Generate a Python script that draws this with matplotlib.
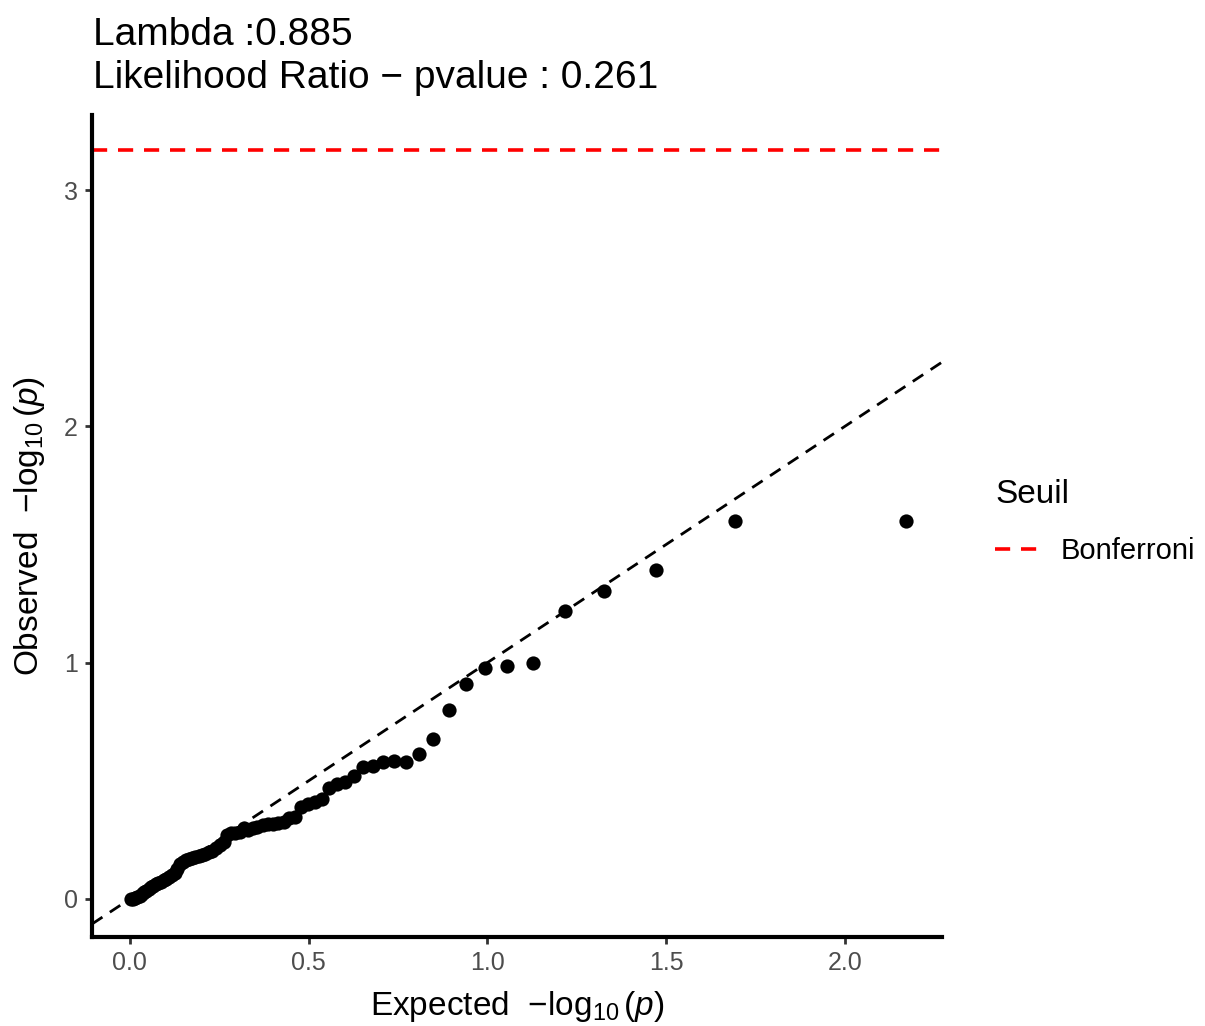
import matplotlib
matplotlib.use("Agg")
import matplotlib.pyplot as plt
from matplotlib.lines import Line2D

plt.rcParams['font.family'] = ['Liberation Sans', 'DejaVu Sans']
plt.rcParams['mathtext.fontset'] = 'custom'
plt.rcParams['mathtext.rm'] = 'Liberation Sans'
plt.rcParams['mathtext.it'] = 'Liberation Sans:italic'

# Expected -log10(p) (sorted, descending)
expected = [2.170, 1.693, 1.471, 1.325, 1.216, 1.129, 1.056, 0.994, 0.940, 0.892,
            0.848, 0.809, 0.772, 0.739, 0.708, 0.679, 0.652, 0.626, 0.602, 0.579,
            0.558, 0.537, 0.517, 0.498, 0.480, 0.463, 0.446, 0.430, 0.414, 0.399,
            0.385, 0.371, 0.357, 0.344, 0.331, 0.319, 0.307, 0.295, 0.284, 0.273,
            0.262, 0.251, 0.241, 0.231, 0.221, 0.211, 0.202, 0.193, 0.183, 0.175,
            0.166, 0.157, 0.149, 0.141, 0.133, 0.125, 0.117, 0.110, 0.102, 0.095,
            0.087, 0.080, 0.073, 0.066, 0.060, 0.053, 0.046, 0.040, 0.034, 0.027,
            0.021, 0.015, 0.009, 0.003]
# Observed -log10(p)
observed = [1.600, 1.600, 1.392, 1.303, 1.217, 0.998, 0.984, 0.977, 0.909, 0.799,
            0.677, 0.613, 0.579, 0.584, 0.579, 0.564, 0.557, 0.520, 0.496, 0.487,
            0.468, 0.422, 0.411, 0.402, 0.388, 0.348, 0.341, 0.327, 0.320, 0.317,
            0.317, 0.313, 0.306, 0.299, 0.292, 0.299, 0.285, 0.278, 0.278, 0.271,
            0.243, 0.229, 0.217, 0.204, 0.198, 0.190, 0.186, 0.182, 0.179, 0.175,
            0.168, 0.165, 0.158, 0.148, 0.126, 0.111, 0.102, 0.094, 0.086, 0.080,
            0.073, 0.069, 0.063, 0.056, 0.049, 0.041, 0.035, 0.028, 0.021, 0.013,
            0.007, 0.003, 0.000, 0.000]
bonferroni = 3.17
lambda_val = "0.885"
lr_pvalue = "0.261"
xticks = [0.0, 0.5, 1.0, 1.5, 2.0]
yticks = [0, 1, 2, 3]

W, H = 1205, 1026
fig = plt.figure(figsize=(W / 100, H / 100), dpi=100)
ax = fig.add_axes([92 / W, 1 - 937 / H, (942 - 92) / W, (937 - 115) / H])

xlim = (-0.106, 2.272)
ylim = (-0.161, 3.318)
ax.set_xlim(*xlim)
ax.set_ylim(*ylim)

ax.axline((0, 0), slope=1, color='black', lw=2.0, dashes=(4.5, 3.2), zorder=2)
ax.axhline(bonferroni, color='#FF0000', lw=2.6, dashes=(4.2, 3.0), zorder=2)
ax.scatter(expected, observed, s=105, color='black', linewidths=0, zorder=3)

for s in ['top', 'right']:
    ax.spines[s].set_visible(False)
for s in ['left', 'bottom']:
    ax.spines[s].set_linewidth(3.0)
    ax.spines[s].set_color('black')

ax.set_xticks(xticks)
ax.set_xticklabels([f"{v:.1f}" for v in xticks])
ax.set_yticks(yticks)
ax.set_yticklabels([str(v) for v in yticks])
ax.tick_params(axis='both', length=5, width=2.0, color='#333333',
               labelcolor='#4D4D4D', labelsize=18, pad=5)

ax.set_xlabel(r'Expected  $-\log_{10}(p)$', fontsize=24, labelpad=10)
ax.set_ylabel(r'Observed  $-\log_{10}(p)$', fontsize=24, labelpad=12)

fig.text(93 / W, 1 - 45 / H, f"Lambda :{lambda_val}", fontsize=28, ha='left', va='baseline')
fig.text(93 / W, 1 - 88 / H, f"Likelihood Ratio \u2212 pvalue : {lr_pvalue}", fontsize=28,
         ha='left', va='baseline')

# Legend
fig.text(995 / W, 1 - 503 / H, "Seuil", fontsize=24, ha='left', va='baseline')
handle = Line2D([], [], color='#FF0000', lw=2.6, dashes=(4.2, 3.0))
leg = fig.legend([handle], ['Bonferroni'], loc='center left',
                 bbox_to_anchor=(995 / W, 1 - 551 / H), frameon=False,
                 fontsize=21, handlelength=1.5, handletextpad=0.75,
                 borderaxespad=0, borderpad=0)

fig.savefig('out.png', dpi=100)
